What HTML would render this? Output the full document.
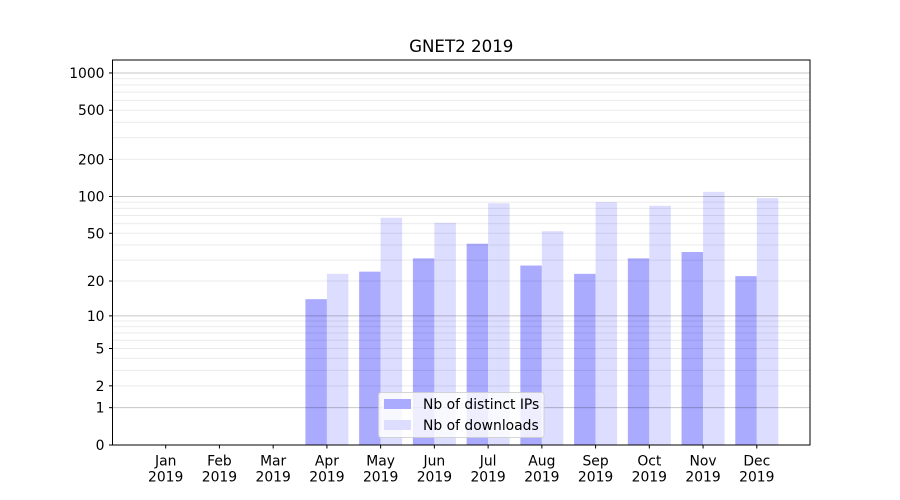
<!DOCTYPE html>
<html><head><meta charset="utf-8"><style>
html,body{margin:0;padding:0;background:#fff;}
svg{display:block;}
text{font-family:"DejaVu Sans","Liberation Sans",sans-serif;fill:#000;}
</style></head><body>
<svg width="900" height="500" viewBox="0 0 900 500" xmlns="http://www.w3.org/2000/svg">
<rect width="900" height="500" fill="#fff"/>
<!-- bars: distinct IPs -->
<g fill="#aaaaff">
<rect x="305.42" y="299.16" width="21.49" height="145.84"/>
<rect x="359.15" y="271.66" width="21.49" height="173.34"/>
<rect x="412.89" y="258.36" width="21.49" height="186.64"/>
<rect x="466.63" y="243.72" width="21.49" height="201.28"/>
<rect x="520.36" y="265.55" width="21.49" height="179.45"/>
<rect x="574.10" y="273.85" width="21.49" height="171.15"/>
<rect x="627.83" y="258.36" width="21.49" height="186.64"/>
<rect x="681.57" y="252.02" width="21.49" height="192.98"/>
<rect x="735.31" y="276.15" width="21.49" height="168.85"/>
</g>
<!-- bars: downloads -->
<g fill="#ddddff">
<rect x="326.91" y="273.85" width="21.49" height="171.15"/>
<rect x="380.64" y="217.77" width="21.49" height="227.23"/>
<rect x="434.38" y="222.74" width="21.49" height="222.26"/>
<rect x="488.12" y="203.28" width="21.49" height="241.72"/>
<rect x="541.85" y="231.19" width="21.49" height="213.81"/>
<rect x="595.59" y="202.08" width="21.49" height="242.92"/>
<rect x="649.32" y="205.75" width="21.49" height="239.25"/>
<rect x="703.06" y="191.87" width="21.49" height="253.13"/>
<rect x="756.80" y="198.09" width="21.49" height="246.91"/>
</g>
<!-- minor grid -->
<g stroke="rgba(0,0,0,0.08)" stroke-width="1">
<line x1="112.5" x2="810" y1="385.84" y2="385.84"/>
<line x1="112.5" x2="810" y1="370.34" y2="370.34"/>
<line x1="112.5" x2="810" y1="358.33" y2="358.33"/>
<line x1="112.5" x2="810" y1="348.51" y2="348.51"/>
<line x1="112.5" x2="810" y1="340.21" y2="340.21"/>
<line x1="112.5" x2="810" y1="333.02" y2="333.02"/>
<line x1="112.5" x2="810" y1="326.67" y2="326.67"/>
<line x1="112.5" x2="810" y1="321" y2="321"/>
<line x1="112.5" x2="810" y1="281.04" y2="281.04"/>
<line x1="112.5" x2="810" y1="260.07" y2="260.07"/>
<line x1="112.5" x2="810" y1="245.02" y2="245.02"/>
<line x1="112.5" x2="810" y1="233.26" y2="233.26"/>
<line x1="112.5" x2="810" y1="223.62" y2="223.62"/>
<line x1="112.5" x2="810" y1="215.44" y2="215.44"/>
<line x1="112.5" x2="810" y1="208.35" y2="208.35"/>
<line x1="112.5" x2="810" y1="202.08" y2="202.08"/>
<line x1="112.5" x2="810" y1="159.40" y2="159.40"/>
<line x1="112.5" x2="810" y1="137.66" y2="137.66"/>
<line x1="112.5" x2="810" y1="122.21" y2="122.21"/>
<line x1="112.5" x2="810" y1="110.22" y2="110.22"/>
<line x1="112.5" x2="810" y1="100.42" y2="100.42"/>
<line x1="112.5" x2="810" y1="92.13" y2="92.13"/>
<line x1="112.5" x2="810" y1="84.95" y2="84.95"/>
<line x1="112.5" x2="810" y1="78.61" y2="78.61"/>
</g>
<!-- major grid -->
<g stroke="rgba(0,0,0,0.22)" stroke-width="1">
<line x1="112.5" x2="810" y1="407.67" y2="407.67"/>
<line x1="112.5" x2="810" y1="315.87" y2="315.87"/>
<line x1="112.5" x2="810" y1="196.46" y2="196.46"/>
<line x1="112.5" x2="810" y1="72.95" y2="72.95"/>
</g>
<!-- axes frame -->
<rect x="112.5" y="60" width="697.5" height="385" fill="none" stroke="#000" stroke-width="1"/>
<!-- y ticks -->
<g stroke="#000" stroke-width="1">
<line x1="109" x2="112.5" y1="445" y2="445"/>
<line x1="109" x2="112.5" y1="407.67" y2="407.67"/>
<line x1="109" x2="112.5" y1="385.84" y2="385.84"/>
<line x1="109" x2="112.5" y1="348.51" y2="348.51"/>
<line x1="109" x2="112.5" y1="315.87" y2="315.87"/>
<line x1="109" x2="112.5" y1="281.04" y2="281.04"/>
<line x1="109" x2="112.5" y1="233.26" y2="233.26"/>
<line x1="109" x2="112.5" y1="196.46" y2="196.46"/>
<line x1="109" x2="112.5" y1="159.40" y2="159.40"/>
<line x1="109" x2="112.5" y1="110.22" y2="110.22"/>
<line x1="109" x2="112.5" y1="72.95" y2="72.95"/>
</g>
<g font-size="13.89px" text-anchor="end">
<text x="104.5" y="450">0</text>
<text x="104.5" y="412.7">1</text>
<text x="104.5" y="390.8">2</text>
<text x="104.5" y="353.5">5</text>
<text x="104.5" y="320.9">10</text>
<text x="104.5" y="286">20</text>
<text x="104.5" y="238.3">50</text>
<text x="104.5" y="201.5">100</text>
<text x="104.5" y="164.4">200</text>
<text x="104.5" y="115.2">500</text>
<text x="104.5" y="78">1000</text>
</g>
<!-- x ticks -->
<g stroke="#000" stroke-width="1">
<line x1="165.70" x2="165.70" y1="445" y2="448.5"/>
<line x1="219.43" x2="219.43" y1="445" y2="448.5"/>
<line x1="273.17" x2="273.17" y1="445" y2="448.5"/>
<line x1="326.91" x2="326.91" y1="445" y2="448.5"/>
<line x1="380.64" x2="380.64" y1="445" y2="448.5"/>
<line x1="434.38" x2="434.38" y1="445" y2="448.5"/>
<line x1="488.12" x2="488.12" y1="445" y2="448.5"/>
<line x1="541.85" x2="541.85" y1="445" y2="448.5"/>
<line x1="595.59" x2="595.59" y1="445" y2="448.5"/>
<line x1="649.32" x2="649.32" y1="445" y2="448.5"/>
<line x1="703.06" x2="703.06" y1="445" y2="448.5"/>
<line x1="756.80" x2="756.80" y1="445" y2="448.5"/>
</g>
<g font-size="13.89px" text-anchor="middle">
<text x="165.70" y="465.5">Jan</text><text x="165.70" y="481.7">2019</text>
<text x="219.43" y="465.5">Feb</text><text x="219.43" y="481.7">2019</text>
<text x="273.17" y="465.5">Mar</text><text x="273.17" y="481.7">2019</text>
<text x="326.91" y="465.5">Apr</text><text x="326.91" y="481.7">2019</text>
<text x="380.64" y="465.5">May</text><text x="380.64" y="481.7">2019</text>
<text x="434.38" y="465.5">Jun</text><text x="434.38" y="481.7">2019</text>
<text x="488.12" y="465.5">Jul</text><text x="488.12" y="481.7">2019</text>
<text x="541.85" y="465.5">Aug</text><text x="541.85" y="481.7">2019</text>
<text x="595.59" y="465.5">Sep</text><text x="595.59" y="481.7">2019</text>
<text x="649.32" y="465.5">Oct</text><text x="649.32" y="481.7">2019</text>
<text x="703.06" y="465.5">Nov</text><text x="703.06" y="481.7">2019</text>
<text x="756.80" y="465.5">Dec</text><text x="756.80" y="481.7">2019</text>
</g>
<!-- title -->
<text x="461.25" y="51.8" font-size="16.67px" text-anchor="middle">GNET2 2019</text>
<!-- legend -->
<rect x="378.5" y="392.5" width="165.5" height="45" rx="2.5" fill="rgba(255,255,255,0.8)" stroke="rgba(204,204,204,0.8)" stroke-width="1"/>
<rect x="384" y="399" width="27" height="10" fill="#aaaaff"/>
<rect x="384" y="420" width="27" height="10" fill="#ddddff"/>
<g font-size="13.89px">
<text x="423" y="408.8">Nb of distinct IPs</text>
<text x="423" y="429.8">Nb of downloads</text>
</g>
</svg>
</body></html>
